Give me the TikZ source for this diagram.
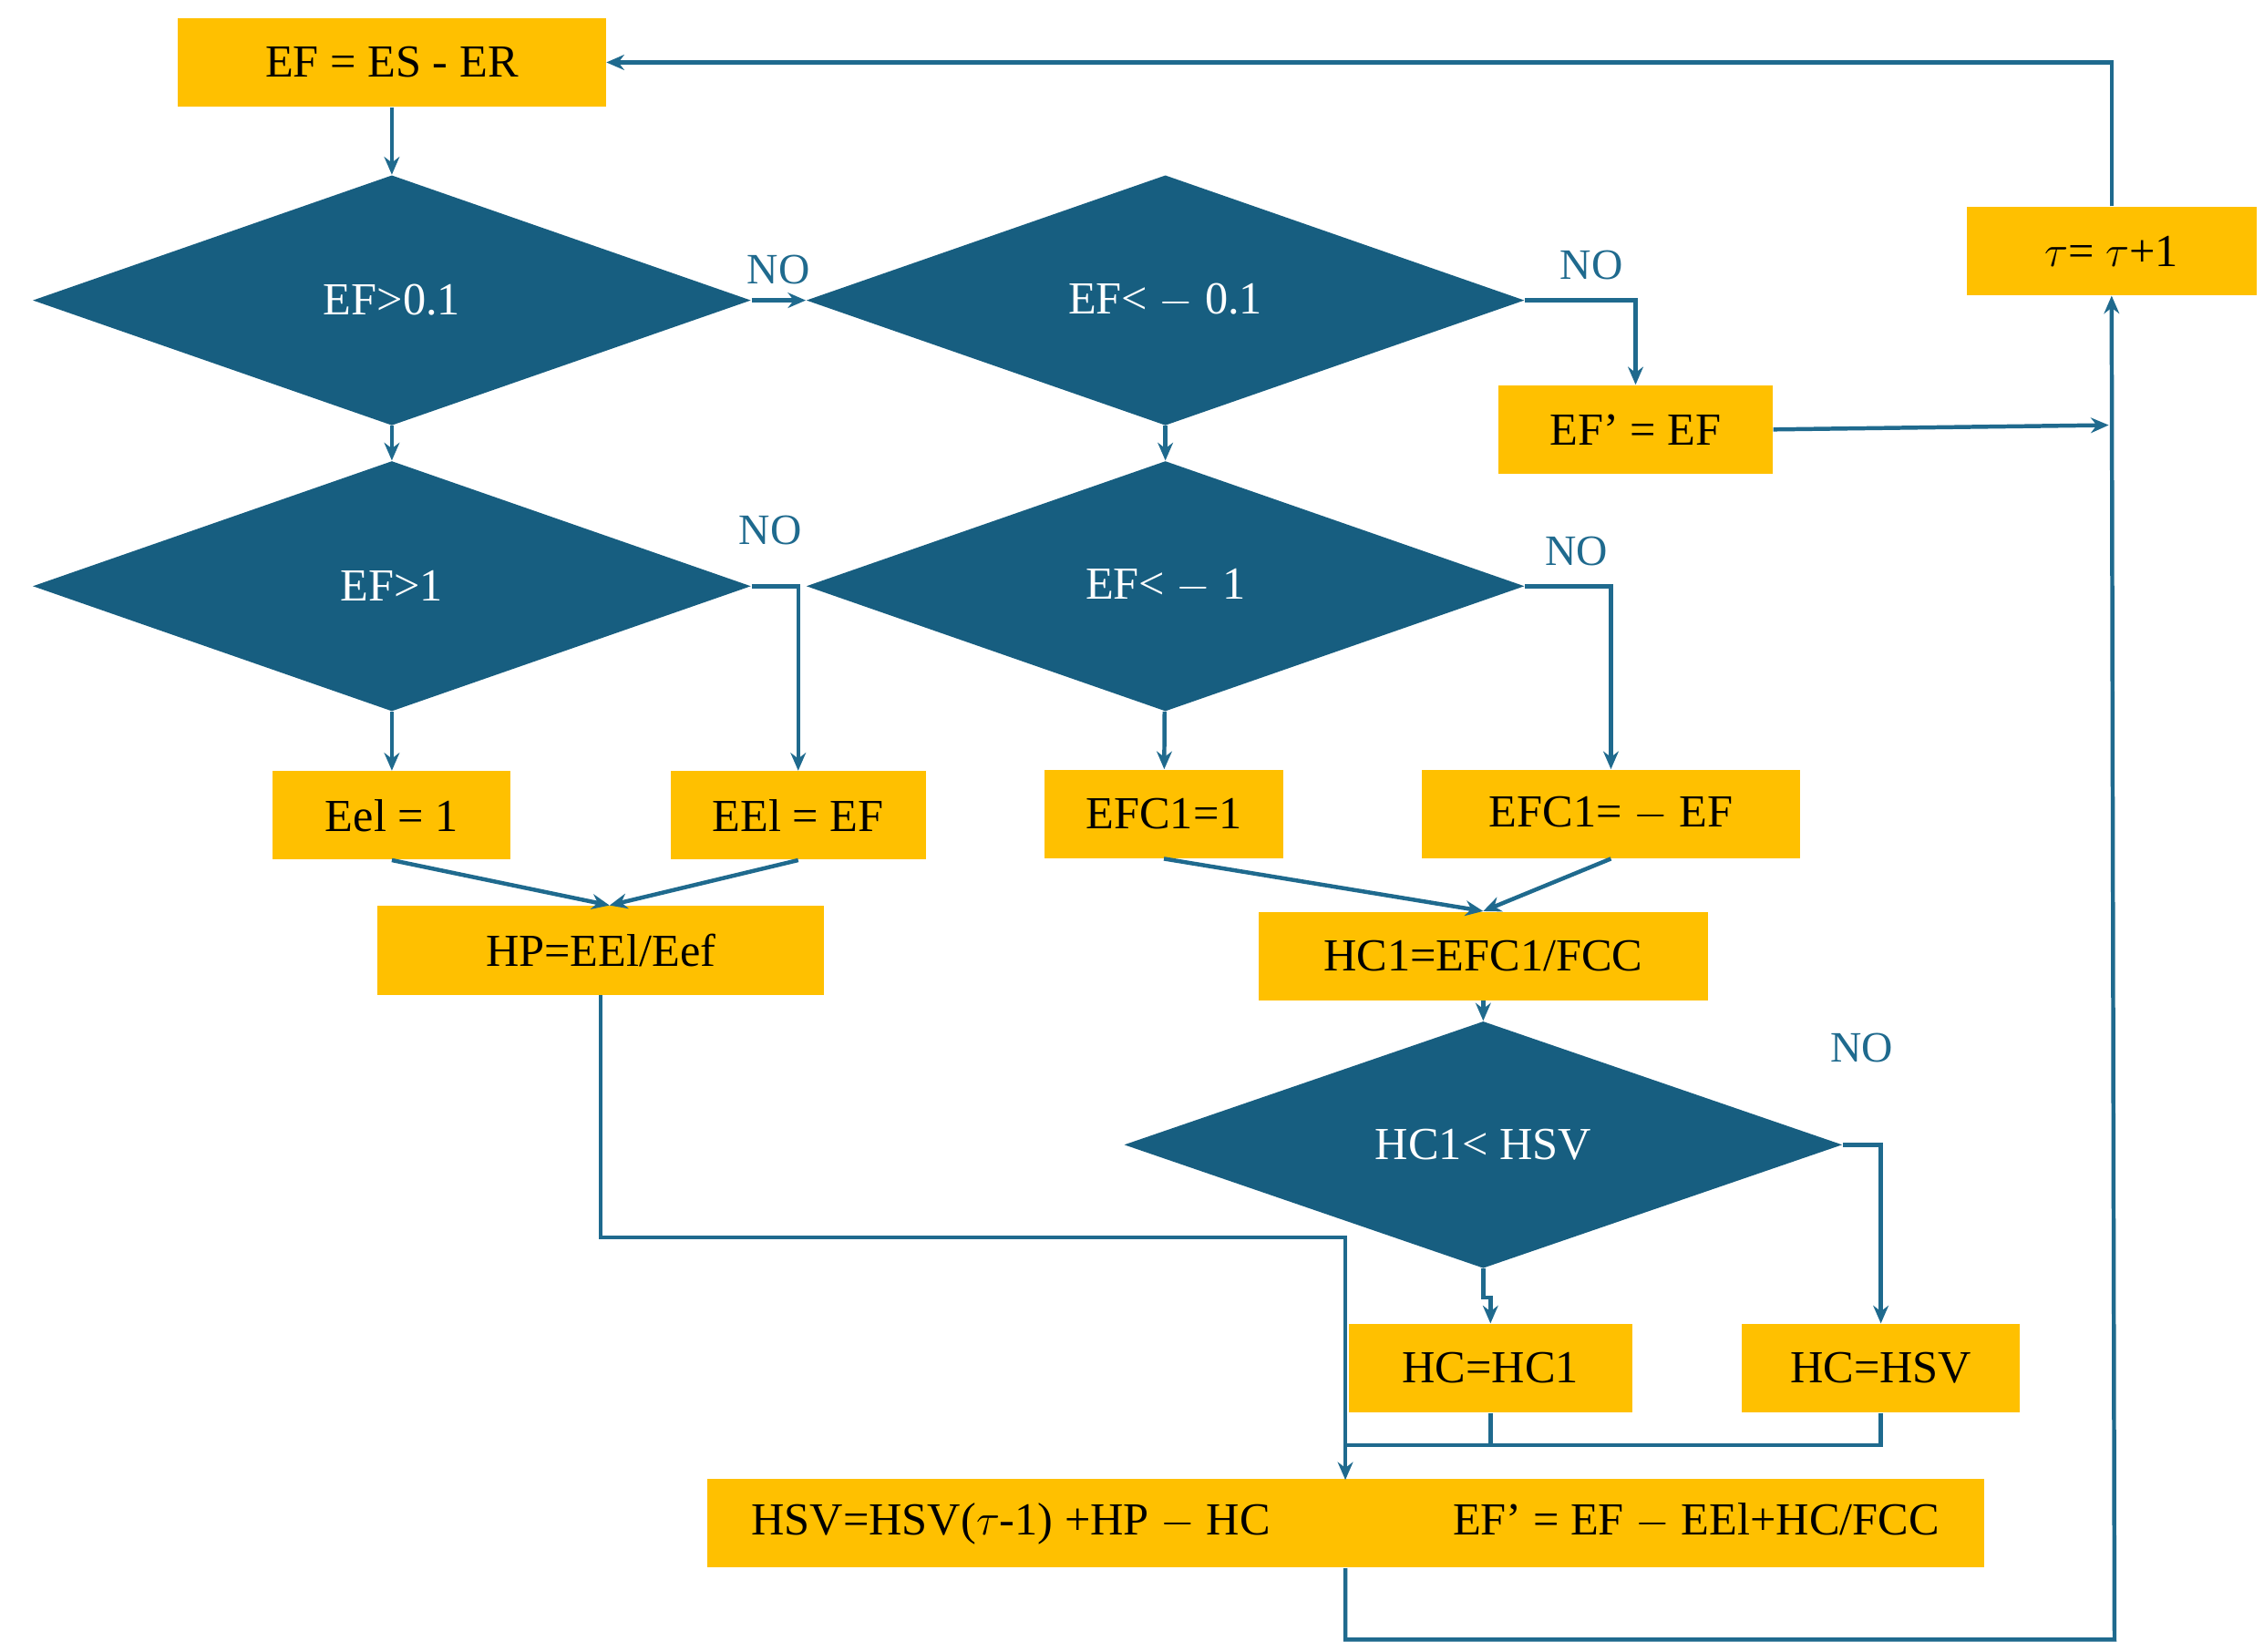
\documentclass[tikz,border=0pt]{standalone}
\usepackage{fontspec}
\setmainfont{Liberation Serif}
\usetikzlibrary{shapes.geometric,arrows.meta}
\definecolor{boxyellow}{HTML}{FFC000}
\definecolor{diablue}{HTML}{175E80}
\definecolor{linblue}{HTML}{1F6A8E}
\tikzset{
  box/.style={fill=boxyellow, minimum height=1.22cm, inner sep=0pt, font=\fontsize{18}{20}\selectfont},
  dia/.style={diamond, fill=diablue, text=white, minimum width=9.9cm, minimum height=3.45cm, inner sep=0pt, font=\fontsize{18}{20}\selectfont},
  con/.style={linblue, line width=1.6pt},
  arr/.style={con, -{Stealth[length=7pt,width=6pt]}},
  lab/.style={font=\fontsize{17}{19}\selectfont}
}
\begin{document}
\begin{tikzpicture}[x=0.02cm, y=-0.02cm]
    \useasboundingbox (0,0) rectangle (1560,1138);
    % boxes
    \node[box, minimum width=5.9cm] (start) at (270,43) {EF = ES - ER};
    \node[box, minimum width=4cm] (tau) at (1455,173) {$\tau$= $\tau$+1};
    \node[box, minimum width=3.78cm] (efp) at (1127,296) {EF’ = EF};
    \node[box, minimum width=3.28cm] (eel) at (270,562) {Eel = 1};
    \node[box, minimum width=3.52cm] (eelef) at (550,562) {EEl = EF};
    \node[box, minimum width=3.3cm] (efc) at (802,561) {EFC1=1};
    \node[box, minimum width=5.22cm] (efcm) at (1110,561) {EFC1= $-$ EF};
    \node[box, minimum width=6.16cm] (hp) at (414,655) {HP=EEl/Eef};
    \node[box, minimum width=6.2cm] (hc1) at (1022,659) {HC1=EFC1/FCC};
    \node[box, minimum width=3.9cm] (hchc) at (1027,943) {HC=HC1};
    \node[box, minimum width=3.84cm] (hchsv) at (1296,943) {HC=HSV};
    \node[box, minimum width=17.6cm] (bot) at (927,1050) {HSV=HSV($\tau$-1) +HP $-$ HC \hspace{2.2cm} EF’ = EF $-$ EEl+HC/FCC};
    % decisions
    \node[dia] (d1) at (270,207) {EF>0.1};
    \node[dia] (d2) at (803,207) {EF< $-$ 0.1};
    \node[dia] (d3) at (270,404) {EF>1};
    \node[dia] (d4) at (803,404) {EF< $-$ 1};
    \node[dia, minimum height=3.36cm] (d5) at (1022,789) {HC1< HSV};
    % junctions
    \coordinate (j1) at (420,624);
    \coordinate (j2) at (1022,628);
    \coordinate (j3) at (1453,293);
    \coordinate (j4) at (927,1020);
    % connectors
    \draw[arr] (start) -- (d1);
    \draw[arr] (d1.east) -- (d2.west) node[lab, pos=0.5, above=2pt] {NO};
    \draw[arr] (d2.east) -| (efp.north) node[lab, pos=0.3, above=4pt] {NO};
    \draw[arr] (efp.east) -- (j3);
    \draw[arr] (d1) -- (d3);
    \draw[arr] (d2) -- (d4);
    \draw[arr] (d3.east) -| (eelef.north) node[lab, pos=0.2, above=12pt] {NO};
    \draw[arr] (d3) -- (eel);
    \draw[arr] (d4) -- (efc);
    \draw[arr] (d4.east) -| (efcm.north) node[lab, pos=0.3, above=4pt] {NO};
    \draw[arr] (eel.south) -- (j1);
    \draw[arr] (eelef.south) -- (j1);
    \draw[arr] (efc.south) -- (j2);
    \draw[arr] (efcm.south) -- (j2);
    \draw[arr] (hc1) -- (d5);
    \draw[arr] (d5.south) -- ++(0,20) -| (hchc.north);
    \draw[arr] (d5.east) -| (hchsv.north) node[lab, pos=0.25, above=28pt] {NO};
    \draw[arr] (hp.south) |- (927,853) -- (j4);
    \draw[con] (hchc.south) -- ++(0,22);
    \draw[con] (hchsv.south) |- (927,996);
    \draw[arr] (bot.south) |- (1457,1130) -- (tau.south);
    \draw[arr] (tau.north) |- (start.east);
\end{tikzpicture}
\end{document}
